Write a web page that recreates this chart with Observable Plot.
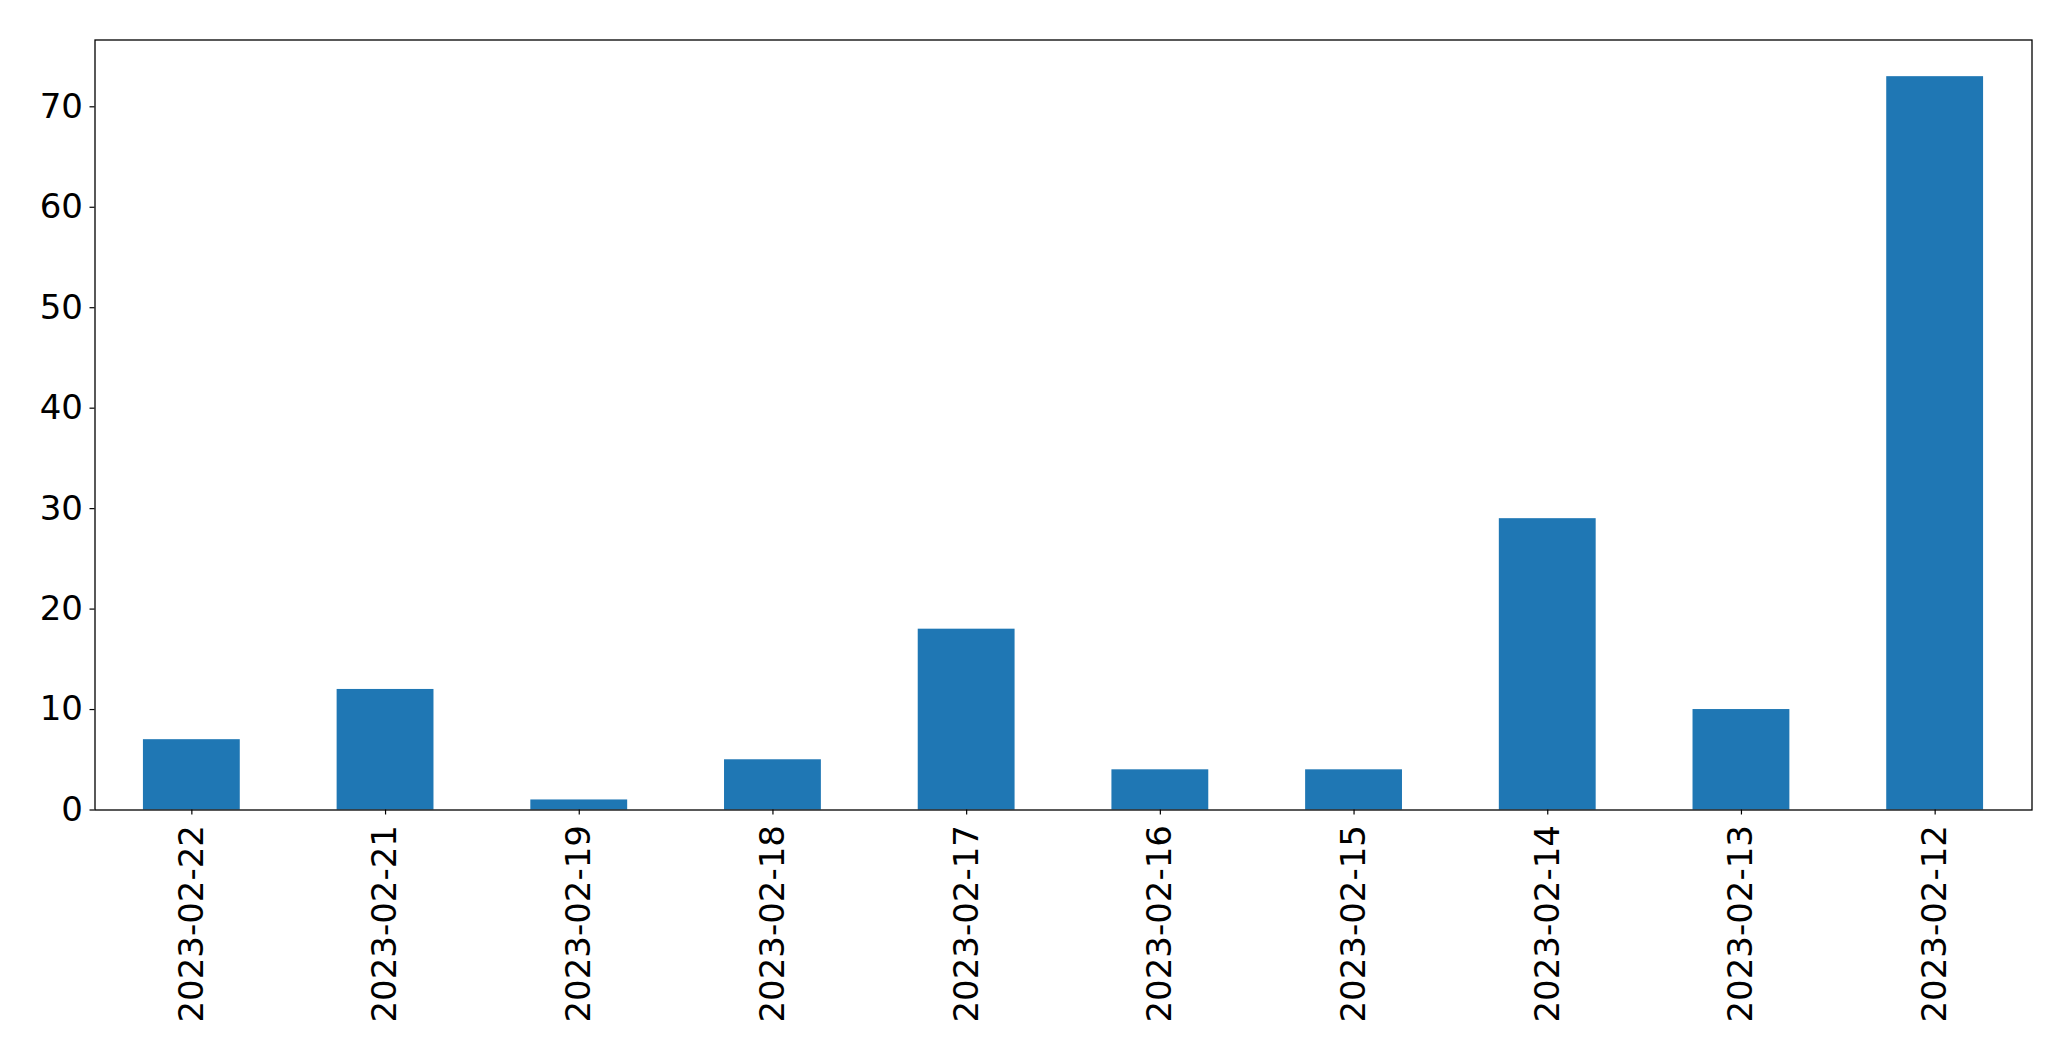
<!DOCTYPE html>
<html>
<head>
<meta charset="utf-8">
<script src="https://cdn.jsdelivr.net/npm/d3@7"></script>
<script src="https://cdn.jsdelivr.net/npm/@observablehq/plot@0.6"></script>
<style>
  html, body { margin: 0; padding: 0; background: #fff; }
  #chart svg { display: block; }
</style>
</head>
<body>
<div id="chart"></div>
<script>
const dates = ["2023-02-22", "2023-02-21", "2023-02-19", "2023-02-18", "2023-02-17", "2023-02-16", "2023-02-15", "2023-02-14", "2023-02-13", "2023-02-12"];
const counts = [7, 12, 1, 5, 18, 4, 4, 29, 10, 73];
const yTicks = [0, 10, 20, 30, 40, 50, 60, 70];

const data = dates.map((d, i) => ({date: d, count: counts[i]}));

const chart = Plot.plot({
  width: 2071,
  height: 1061,
  marginLeft: 94.5,
  marginTop: 39.5,
  marginRight: 39.5,
  marginBottom: 251.5,
  style: {fontFamily: "DejaVu Sans", fontSize: "34px", color: "black", background: "white"},
  x: {domain: dates, paddingInner: 0.5, paddingOuter: 0.25, round: false, label: null},
  y: {domain: [0, 76.65], label: null},
  marks: [
    Plot.barY(data, {x: "date", y: "count", fill: "#1f77b4"}),
    Plot.axisY({ticks: yTicks, tickSize: 5, tickPadding: 7, fontSize: 34, label: null, stroke: "black", strokeOpacity: 1, strokeWidth: 1.2}),
    Plot.axisX({tickRotate: -90, tickSize: 5, tickPadding: 10, fontSize: 34, label: null, stroke: "black", strokeOpacity: 1, strokeWidth: 1.2}),
    Plot.frame({stroke: "black", strokeWidth: 1.3})
  ]
});
document.getElementById("chart").appendChild(chart);
</script>
</body>
</html>
